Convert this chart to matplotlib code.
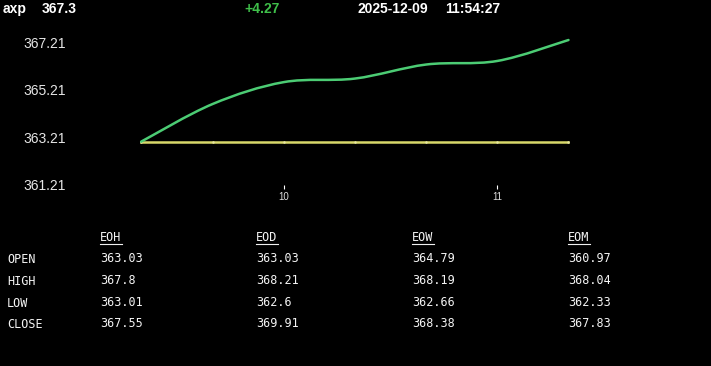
import numpy as np
import matplotlib
matplotlib.use("Agg")
import matplotlib.pyplot as plt
from matplotlib.path import Path
from matplotlib.patches import PathPatch
from matplotlib.lines import Line2D

# header
symbol = "axp"
last_price = "367.3"
change = "+4.27"
date_str = "2025-12-09"
time_str = "11:54:27"

# price series (hour of day, price)
hours = [9.333, 9.667, 10.0, 10.333, 10.667, 11.0, 11.333]
prices = [363.03, 364.61, 365.53, 365.68, 366.27, 366.42, 367.30]
open_price = 363.03

yticks = [361.21, 363.21, 365.21, 367.21]
xticks = [10, 11]

# table
col_names = ["EOH", "EOD", "EOW", "EOM"]
row_names = ["OPEN", "HIGH", "LOW", "CLOSE"]
table_vals = [
    ["363.03", "363.03", "364.79", "360.97"],
    ["367.8", "368.21", "368.19", "368.04"],
    ["363.01", "362.6", "362.66", "362.33"],
    ["367.55", "369.91", "368.38", "367.83"],
]

W, H = 711, 366
fig = plt.figure(figsize=(W / 100, H / 100), dpi=100, facecolor="black")


def fx(px):
    return px / W


def fy(py):
    return 1 - py / H


# chart area: pixel x 70..711, y 25..185
ax = fig.add_axes([fx(70), fy(185), fx(711 - 70), (185 - 25) / H])
ax.set_facecolor("black")
for s in ax.spines.values():
    s.set_visible(False)
ax.set_xlim(9, 12)
ax.set_ylim(361.21, 367.93)


def smooth_path(xs, ys):
    # catmull-rom through the points, drawn as cubic bezier segments
    pts = np.column_stack([xs, ys])
    n = len(pts)
    verts = [pts[0]]
    codes = [Path.MOVETO]
    for i in range(n - 1):
        p0 = pts[max(i - 1, 0)]
        p1 = pts[i]
        p2 = pts[i + 1]
        p3 = pts[min(i + 2, n - 1)]
        c1 = p1 + (p2 - p0) / 6
        c2 = p2 - (p3 - p1) / 6
        verts += [c1, c2, p2]
        codes += [Path.CURVE4] * 3
    return Path(verts, codes)


ax.plot(hours, [open_price] * len(hours), color="#d8d86a", lw=1.8,
        marker="o", ms=0.8, mfc="#e6e6a0", mec="#e6e6a0", zorder=2)
ax.add_patch(PathPatch(smooth_path(hours, prices), fc="none", ec="#4ccc74",
                       lw=1.8, zorder=3, capstyle="round"))

ax.set_yticks(yticks)
ax.set_yticklabels(["%.2f" % v for v in yticks], fontsize=10,
                   color="#e6e6e6", family="Liberation Sans")
ax.tick_params(axis="y", length=0, pad=3)
ax.set_xticks(xticks)
ax.set_xticklabels([str(v) for v in xticks], fontsize=7,
                   color="#dddddd", family="Liberation Sans")
ax.tick_params(axis="x", length=3, width=0.8, color="white", pad=2)

# header line
hdr = dict(fontsize=10, fontweight="bold", family="Liberation Sans",
           va="center", ha="left")
fig.text(fx(3), fy(9), symbol, color="white", **hdr)
fig.text(fx(42), fy(9), last_price, color="white", **hdr)
fig.text(fx(244), fy(9), change, color="#3fbf4a", **hdr)
fig.text(fx(358), fy(9), date_str, color="white", **hdr)
fig.text(fx(445), fy(9), time_str, color="white", **hdr)

# table
mono = dict(fontsize=8.5, family="DejaVu Sans Mono", color="#f4f4f4",
            va="center", ha="left")
col_x = [100, 256, 412, 568]
row_y = [258, 280, 302, 323.5]
for cx, name in zip(col_x, col_names):
    fig.text(fx(cx), fy(238), name, **mono)
    fig.add_artist(Line2D([fx(cx), fx(cx + 22)], [fy(243.5), fy(243.5)],
                          color="#f0f0f0", lw=0.8))
for ry, name in zip(row_y, row_names):
    fig.text(fx(7), fy(ry + 1.5), name, **mono)
for r, ry in enumerate(row_y):
    for c, cx in enumerate(col_x):
        fig.text(fx(cx), fy(ry), table_vals[r][c], **mono)

fig.savefig("out.png", dpi=100, facecolor="black")
